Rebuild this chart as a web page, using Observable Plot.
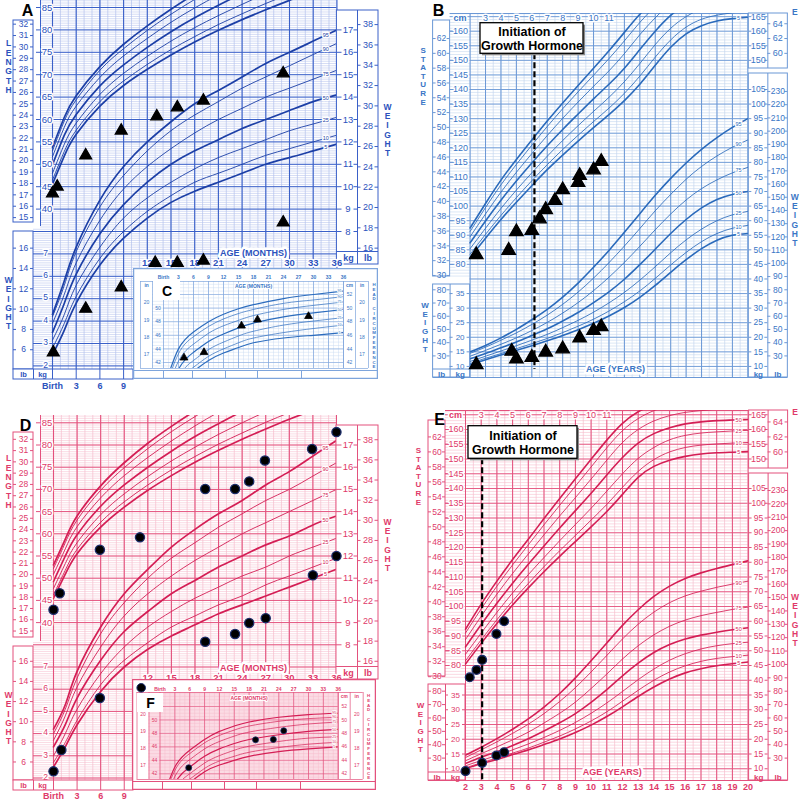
<!DOCTYPE html>
<html>
<head>
<meta charset="utf-8">
<script src="https://cdn.jsdelivr.net/npm/d3@7"></script>
<script src="https://cdn.jsdelivr.net/npm/@observablehq/plot@0.6"></script>
<style>
  html, body { margin: 0; padding: 0; background: #fff; }
  #root { position: relative; width: 800px; height: 801px; overflow: hidden; background: #fff; }
</style>
</head>
<body>
<div id="root"></div>
<script>
// ================= reference percentile curves =================
const pctNames = ["5", "10", "25", "50", "75", "90", "95"];

// Birth to 36 months (months)
const infantAges = [0, 1.5, 3, 6, 9, 12, 15, 18, 21, 24, 27, 30, 33, 36];
const boyLength = [
  [45.6, 51.9, 56.7, 63.0, 67.6, 71.2, 74.4, 77.3, 79.9, 82.3, 84.5, 86.6, 88.5, 90.4],
  [46.5, 52.9, 57.6, 64.0, 68.6, 72.3, 75.6, 78.5, 81.2, 83.6, 85.9, 88.0, 90.0, 91.8],
  [48.0, 54.5, 59.2, 65.6, 70.3, 74.1, 77.5, 80.5, 83.2, 85.7, 88.1, 90.3, 92.3, 94.2],
  [49.9, 56.5, 61.1, 67.5, 72.2, 76.1, 79.6, 82.7, 85.5, 88.1, 90.5, 92.8, 94.9, 96.9],
  [51.7, 58.3, 63.0, 69.4, 74.2, 78.1, 81.7, 84.9, 87.8, 90.5, 93.0, 95.4, 97.6, 99.7],
  [53.0, 59.7, 64.4, 71.0, 75.8, 79.9, 83.5, 86.8, 89.8, 92.6, 95.2, 97.6, 99.9, 102.0],
  [53.8, 60.5, 65.3, 71.8, 76.8, 80.9, 84.6, 88.0, 91.0, 93.8, 96.5, 99.0, 101.3, 103.5]
];
const boyWeight = [
  [2.5, 3.6, 4.8, 6.5, 7.7, 8.6, 9.3, 9.8, 10.2, 10.6, 11.0, 11.3, 11.6, 11.9],
  [2.8, 3.9, 5.1, 6.8, 8.0, 8.9, 9.6, 10.2, 10.6, 11.0, 11.4, 11.7, 12.0, 12.3],
  [3.15, 4.3, 5.6, 7.3, 8.6, 9.5, 10.2, 10.8, 11.3, 11.7, 12.1, 12.5, 12.8, 13.1],
  [3.5, 4.8, 6.1, 7.9, 9.2, 10.2, 11.0, 11.6, 12.1, 12.6, 13.0, 13.4, 13.8, 14.1],
  [3.9, 5.2, 6.6, 8.5, 9.9, 10.9, 11.7, 12.4, 13.0, 13.5, 14.0, 14.4, 14.8, 15.2],
  [4.2, 5.6, 7.1, 9.1, 10.5, 11.6, 12.5, 13.2, 13.8, 14.4, 14.9, 15.4, 15.9, 16.4],
  [4.3, 5.8, 7.3, 9.4, 10.9, 12.0, 12.9, 13.7, 14.3, 14.9, 15.5, 16.0, 16.5, 17.0]
];
const girlLength = [
  [45.5, 50.9, 55.5, 61.5, 66.0, 69.8, 73.1, 76.1, 78.8, 81.3, 83.6, 85.8, 87.8, 89.7],
  [46.3, 51.8, 56.5, 62.6, 67.2, 71.0, 74.4, 77.4, 80.2, 82.7, 85.1, 87.3, 89.4, 91.3],
  [47.7, 53.3, 58.0, 64.3, 69.0, 72.9, 76.4, 79.5, 82.4, 85.0, 87.5, 89.8, 92.0, 94.0],
  [49.3, 55.0, 59.8, 66.2, 71.0, 75.0, 78.6, 81.9, 84.8, 87.6, 90.2, 92.6, 94.9, 97.0],
  [50.9, 56.6, 61.6, 68.1, 73.1, 77.2, 80.9, 84.3, 87.4, 90.2, 92.9, 95.5, 97.9, 100.1],
  [52.2, 58.0, 63.1, 69.8, 74.9, 79.2, 83.0, 86.4, 89.6, 92.5, 95.3, 98.0, 100.5, 102.8],
  [53.0, 58.8, 64.0, 70.8, 76.0, 80.4, 84.2, 87.7, 91.0, 94.0, 96.9, 99.6, 102.1, 104.5]
];
const girlWeight = [
  [2.5, 3.4, 4.4, 5.9, 7.0, 7.8, 8.4, 8.9, 9.4, 9.8, 10.2, 10.6, 11.0, 11.4],
  [2.7, 3.6, 4.6, 6.2, 7.3, 8.1, 8.8, 9.3, 9.8, 10.2, 10.7, 11.1, 11.5, 11.9],
  [3.0, 4.0, 5.1, 6.7, 7.9, 8.8, 9.5, 10.1, 10.6, 11.1, 11.5, 12.0, 12.4, 12.8],
  [3.4, 4.4, 5.6, 7.3, 8.6, 9.5, 10.3, 10.9, 11.5, 12.0, 12.5, 12.9, 13.4, 13.8],
  [3.7, 4.8, 6.1, 7.9, 9.3, 10.3, 11.1, 11.8, 12.4, 13.0, 13.5, 14.0, 14.5, 15.0],
  [4.0, 5.1, 6.5, 8.5, 9.9, 11.0, 11.9, 12.6, 13.3, 13.9, 14.5, 15.0, 15.6, 16.2],
  [4.2, 5.3, 6.8, 8.8, 10.3, 11.4, 12.4, 13.2, 13.9, 14.5, 15.2, 15.8, 16.5, 17.2]
];

// Head circumference insets (months, cm)
const headAges = [0, 3, 6, 9, 12, 15, 18, 24, 30, 36];
const boyHead = [
  [32.2, 38.2, 40.7, 42.3, 43.4, 44.2, 44.9, 45.6, 46.0, 46.4],
  [32.8, 38.8, 41.3, 42.9, 44.0, 44.9, 45.6, 46.4, 47.0, 47.5],
  [33.8, 39.8, 42.3, 43.9, 45.0, 45.9, 46.6, 47.5, 48.1, 48.6],
  [35.0, 41.0, 43.5, 45.1, 46.2, 47.1, 47.8, 48.7, 49.3, 49.8],
  [36.2, 42.2, 44.7, 46.3, 47.4, 48.2, 48.9, 49.8, 50.4, 50.9],
  [37.3, 43.3, 45.8, 47.3, 48.4, 49.2, 49.8, 50.7, 51.2, 51.7],
  [38.0, 44.0, 46.5, 48.0, 49.1, 49.9, 50.5, 51.4, 52.0, 52.5]
];
const girlHead = [
  [32.0, 38.3, 40.7, 42.3, 43.3, 44.0, 44.6, 45.3, 45.7, 46.0],
  [32.6, 38.8, 41.2, 42.8, 43.9, 44.6, 45.2, 45.9, 46.4, 46.7],
  [33.6, 39.6, 42.0, 43.6, 44.7, 45.5, 46.1, 46.8, 47.3, 47.5],
  [34.6, 40.6, 43.0, 44.6, 45.7, 46.5, 47.1, 47.8, 48.3, 48.6],
  [35.6, 41.6, 44.1, 45.7, 46.8, 47.6, 48.2, 48.9, 49.4, 49.7],
  [36.5, 42.5, 45.0, 46.6, 47.7, 48.5, 49.1, 49.8, 50.2, 50.4],
  [37.0, 43.0, 45.5, 47.1, 48.3, 49.1, 49.7, 50.4, 50.8, 51.0]
];

// 2 to 20 years (years; stature cm, weight kg)
const childAges = [2, 3, 4, 5, 6, 7, 8, 9, 10, 11, 12, 13, 14, 15, 16, 17, 18, 19, 20];
const boyStature = [
  [82.4, 89.0, 95.4, 101.3, 107.0, 112.5, 117.5, 122.3, 126.9, 131.4, 136.2, 141.8, 148.3, 154.5, 159.1, 161.9, 163.5, 164.3, 164.8],
  [83.5, 90.3, 96.8, 102.9, 108.7, 114.2, 119.4, 124.3, 129.0, 133.6, 138.7, 144.6, 151.1, 157.0, 161.4, 164.1, 165.5, 166.3, 166.8],
  [85.4, 92.4, 99.2, 105.5, 111.4, 117.1, 122.5, 127.6, 132.5, 137.3, 142.7, 148.9, 155.4, 161.0, 165.0, 167.6, 169.0, 169.8, 170.3],
  [87.4, 94.9, 102.0, 108.6, 114.8, 120.7, 126.3, 131.6, 136.8, 141.8, 147.3, 153.7, 160.0, 165.4, 169.3, 171.8, 173.3, 174.3, 175.0],
  [89.5, 97.3, 104.8, 111.6, 118.0, 124.2, 130.1, 135.7, 141.1, 146.4, 152.3, 158.8, 164.6, 169.5, 173.1, 175.4, 176.8, 177.7, 178.3],
  [91.3, 99.5, 107.3, 114.3, 120.9, 127.3, 133.4, 139.2, 144.9, 150.6, 156.7, 163.0, 168.6, 173.4, 176.8, 178.9, 180.2, 181.0, 181.5],
  [92.5, 100.9, 108.9, 116.0, 122.7, 129.2, 135.4, 141.4, 147.3, 153.3, 159.6, 165.8, 171.1, 175.7, 178.8, 180.8, 182.0, 182.7, 183.2]
];
const boyWeightChild = [
  [10.6, 12.3, 13.9, 15.5, 17.1, 18.8, 20.6, 22.6, 24.8, 27.3, 30.2, 33.7, 37.8, 42.3, 46.6, 50.4, 53.3, 55.0, 55.6],
  [11.0, 12.8, 14.4, 16.1, 17.8, 19.6, 21.6, 23.8, 26.2, 29.0, 32.2, 35.9, 40.2, 44.8, 49.1, 52.8, 55.6, 57.4, 58.4],
  [11.7, 13.5, 15.3, 17.1, 19.0, 21.0, 23.3, 25.8, 28.6, 31.8, 35.4, 39.6, 44.2, 49.0, 53.4, 57.1, 60.0, 62.0, 63.2],
  [12.6, 14.4, 16.4, 18.4, 20.6, 22.9, 25.6, 28.5, 31.9, 35.6, 39.9, 44.9, 50.2, 55.6, 60.4, 64.4, 67.3, 69.0, 70.0],
  [13.5, 15.5, 17.6, 19.8, 22.3, 25.1, 28.3, 31.9, 36.0, 40.6, 45.7, 51.2, 56.9, 62.3, 67.1, 71.0, 74.0, 76.4, 78.3],
  [14.5, 16.6, 19.0, 21.5, 24.4, 27.6, 31.3, 35.5, 40.3, 45.6, 51.3, 57.3, 63.4, 69.0, 74.2, 78.6, 82.2, 85.2, 87.7],
  [15.0, 17.2, 19.8, 22.7, 26.0, 29.6, 33.8, 38.6, 44.0, 49.8, 56.0, 62.4, 68.7, 74.5, 79.8, 84.5, 88.5, 92.0, 95.0]
];
const girlStature = [
  [80.5, 87.5, 94.2, 100.5, 106.3, 111.8, 117.0, 122.0, 127.0, 132.2, 138.0, 143.8, 147.5, 149.6, 150.9, 151.7, 152.1, 152.3, 152.5],
  [81.6, 88.7, 95.5, 101.9, 107.8, 113.5, 118.9, 124.1, 129.3, 134.6, 140.4, 145.8, 149.8, 152.4, 153.9, 154.7, 155.1, 155.4, 155.6],
  [83.8, 91.0, 98.0, 104.6, 110.8, 116.6, 122.3, 127.8, 133.3, 139.1, 145.0, 150.2, 153.9, 156.5, 158.0, 158.8, 159.2, 159.5, 159.7],
  [86.3, 93.9, 101.1, 107.9, 114.3, 120.5, 126.6, 132.5, 138.4, 144.6, 150.5, 155.4, 158.6, 160.6, 161.9, 162.6, 163.0, 163.2, 163.4],
  [88.8, 96.7, 104.2, 111.2, 117.8, 124.3, 130.7, 136.9, 143.2, 149.6, 155.6, 160.0, 162.9, 164.7, 165.8, 166.4, 166.9, 167.2, 167.4],
  [91.0, 99.2, 106.9, 114.1, 120.9, 127.7, 134.3, 140.8, 147.3, 153.8, 159.6, 163.7, 166.4, 168.2, 169.3, 169.9, 170.3, 170.5, 170.7],
  [92.3, 100.8, 108.6, 115.9, 122.8, 129.8, 136.6, 143.3, 149.9, 156.4, 162.1, 166.0, 168.5, 170.3, 171.3, 171.9, 172.3, 172.5, 172.7]
];
const girlWeightChild = [
  [10.0, 11.7, 13.1, 14.8, 16.4, 18.2, 20.1, 22.3, 24.8, 27.7, 31.0, 34.5, 37.7, 40.4, 42.5, 43.9, 44.9, 45.6, 46.2],
  [10.3, 12.0, 13.6, 15.3, 17.0, 19.0, 21.1, 23.5, 26.2, 29.3, 32.9, 36.6, 40.0, 42.8, 44.9, 46.4, 47.4, 48.0, 48.5],
  [11.0, 12.8, 14.5, 16.4, 18.4, 20.6, 23.0, 25.7, 28.8, 32.3, 36.2, 40.2, 43.8, 46.8, 49.0, 50.6, 51.7, 52.4, 52.9],
  [11.8, 13.9, 15.8, 17.9, 20.2, 22.8, 25.6, 28.7, 32.5, 36.8, 41.5, 45.8, 49.4, 52.1, 54.0, 55.3, 56.3, 57.1, 57.8],
  [12.7, 15.1, 17.4, 19.8, 22.4, 25.5, 28.8, 32.6, 37.2, 42.1, 47.2, 51.7, 55.4, 58.3, 60.4, 61.9, 63.0, 64.0, 64.8],
  [13.8, 16.4, 19.1, 22.0, 25.1, 28.7, 32.8, 37.5, 42.8, 48.4, 54.0, 59.0, 63.1, 66.3, 68.6, 70.2, 71.5, 72.6, 73.6],
  [14.6, 17.3, 20.2, 23.4, 26.9, 30.9, 35.5, 40.8, 46.6, 52.6, 58.6, 63.9, 68.4, 71.9, 74.5, 76.4, 77.9, 79.2, 80.5]
];

// ================= patient measurements =================
// Panel A (boy, triangles)
const aLenAge = [0, 0.6, 4.2, 8.7, 13.2, 15.8, 19.1, 29.2];
const aLenCm = [43.5, 45.0, 52.0, 57.5, 60.7, 62.7, 64.2, 70.3];
const aWtAge = [0.1, 4.2, 8.7, 13.0, 15.8, 19.1, 29.2];
const aWtKg = [2.6, 4.55, 5.5, 6.6, 6.6, 6.7, 8.4];
// Panel C (head circumference)
const cHeadAge = [4.1, 8.1, 15.6, 18.8, 29.0];
const cHeadCm = [42.7, 43.5, 47.4, 48.3, 48.8];
// Panel B (boy 2-20 y, triangles)
const bStatAge = [2.4, 4.5, 5.0, 6.0, 6.5, 6.9, 7.5, 8.0, 9.0, 9.1, 10.0, 10.5];
const bStatCm = [83.3, 84.8, 91.2, 91.6, 95.6, 98.8, 101.9, 105.6, 108.1, 110.5, 112.4, 115.3];
const bWtAge = [2.4, 4.7, 5.0, 6.0, 6.9, 8.0, 9.1, 10.0, 10.5];
const bWtKg = [10.6, 15.2, 12.6, 13.1, 14.9, 16.0, 19.8, 22.3, 23.6];
const bGhAge = 6.17;
// Panel D (girl, circles)
const dLenAge = [0, 0.8, 5.9, 11.0, 19.3, 23.1, 24.9, 26.9, 32.9, 36];
const dLenCm = [42.9, 46.6, 56.4, 59.2, 70.1, 70.1, 71.8, 76.5, 79.1, 82.9];
const dWtAge = [0, 1.0, 5.9, 19.3, 23.1, 24.9, 27.0, 33.0, 36];
const dWtKg = [2.3, 3.26, 5.6, 8.14, 8.49, 8.98, 9.2, 11.13, 12.0];
// Panel F (head circumference)
const fHeadAge = [5.8, 19.3, 22.9, 25.0];
const fHeadCm = [42.9, 47.05, 47.1, 48.4];
// Panel E (girl 2-20 y, circles)
const eStatAge = [2.27, 2.7, 3.06, 3.97, 4.46];
const eStatCm = [76.0, 78.5, 81.9, 90.7, 95.0];
const eWtAge = [2.0, 3.06, 3.97, 4.46];
const eWtKg = [9.2, 12.0, 14.5, 15.6];
const eGhAge = 3.06;

// ================= tick labels =================
const monthLowTicks = [0, 3, 6, 9];
const monthMidTicks = [12, 15, 18, 21, 24, 27, 30, 33, 36];
const lengthCmTicks = [40, 45, 50, 55, 60, 65, 70, 75, 80, 85];
const lengthInTicks = [15, 16, 17, 18, 19, 20, 21, 22, 23, 24, 25, 26, 27, 28, 29, 30, 31, 32];
const infantKgLeft = [2, 3, 4, 5, 6, 7];
const infantLbLeft = [6, 8, 10, 12, 14, 16];
const infantKgRight = [8, 9, 10, 11, 12, 13, 14, 15, 16, 17];
const infantLbRight = [16, 18, 20, 22, 24, 26, 28, 30, 32, 34, 36, 38];
const headMonthTicks = [0, 3, 6, 9, 12, 15, 18, 21, 24, 27, 30, 33, 36];
const headCmTicks = [42, 44, 46, 48, 50, 52];
const headInTicks = [17, 18, 19, 20];
const yearTopTicks = [3, 4, 5, 6, 7, 8, 9, 10, 11];
const yearBottomTicks = [2, 3, 4, 5, 6, 7, 8, 9, 10, 11, 12, 13, 14, 15, 16, 17, 18, 19, 20];
const statureCmTicks = [80, 85, 90, 95, 100, 105, 110, 115, 120, 125, 130, 135, 140, 145, 150, 155, 160];
const statureInTicks = [30, 32, 34, 36, 38, 40, 42, 44, 46, 48, 50, 52, 54, 56, 58, 60, 62];
const statureCmRight = [150, 155, 160, 165];
const statureInRight = [60, 62, 64];
const childKgLeft = [10, 15, 20, 25, 30, 35];
const childLbLeft = [30, 40, 50, 60, 70, 80];
const childKgRight = [10, 15, 20, 25, 30, 35, 40, 45, 50, 55, 60, 65, 70, 75, 80, 85, 90, 95, 100, 105];
const childLbRight = [30, 40, 50, 60, 70, 80, 90, 100, 110, 120, 130, 140, 150, 160, 170, 180, 190, 200, 210, 220, 230];

// ================= drawing helpers =================
const FONT = '"Liberation Sans", Arial, Helvetica, sans-serif';
const root = document.getElementById("root");
const str = d => String(d);
const pairs = (xs, ys) => xs.map((a, i) => ({a, v: ys[i]}));

function label(data, o) {
  const {halo, ...rest} = o;
  const base = {fontFamily: FONT, ...rest};
  const out = [];
  if (halo) out.push(Plot.text(data, {...base, fill: "white", stroke: "white", strokeWidth: halo, strokeLinejoin: "round"}));
  out.push(Plot.text(data, base));
  return out;
}
function place(el, left, top) {
  el.style.position = "absolute";
  el.style.left = left + "px";
  el.style.top = top + "px";
  el.style.maxWidth = "none";
  root.appendChild(el);
}

const blueA = {thin: "#b3c1ec", mid: "#3a60c8", curve: "#1c3fa6", text: "#2c52bd"};
const blueB = {thin: "#c4d6ef", mid: "#6b98d6", curve: "#2a6abb", text: "#3a76c6"};
const blueC = {thin: "#cddcf2", mid: "#7ea5dc", curve: "#2c6cbd", text: "#3a76c6"};
const pink = {thin: "#f6bdcd", mid: "#e3517d", curve: "#d41e55", text: "#e03a6a"};

// ---------- birth to 36 months panel (A, D) ----------
function infantPanel(c) {
  const th = c.th, W = 400, H = c.H;
  const X = px => (px - c.x0) / c.kx;
  const Y = py => 85 - (py - c.y0) / c.ky;
  const K = kg => 5 * kg - 5;                 // weight placed on the shared length axis
  const LB = lb => K(lb * 0.453592);
  const IN = v => v * 2.54;
  const topV = Y(0);
  const gx1 = v => (v >= 36 ? X(40) : X(33));
  const rowY = c.rowY;
  const m = [];
  // grid
  m.push(Plot.ruleY(d3.range(K(2), topV, 0.5), {y: d => d, x1: gx1, x2: 36, stroke: th.thin, strokeWidth: 0.55}));
  m.push(Plot.ruleX(d3.range(0, 37), {x: d => d, y1: topV, y2: Y(rowY + 10), stroke: th.thin, strokeWidth: 0.7}));
  m.push(Plot.ruleY(d3.range(5, topV, 5), {y: d => d, x1: gx1, x2: 36, stroke: th.mid, strokeWidth: 1}));
  m.push(Plot.ruleX(d3.range(0, 37, 3), {x: d => d, y1: topV, y2: Y(rowY + 10), stroke: th.mid, strokeWidth: 1.1}));
  m.push(Plot.ruleX([X(40)], {x: d => d, y1: topV, y2: Y(226), stroke: th.mid, strokeWidth: 1}));
  // percentile curves
  c.len.forEach((row, i) => m.push(Plot.line(pairs(infantAges, row), {x: "a", y: "v", curve: "natural", stroke: th.curve, strokeWidth: i % 3 === 0 ? 1.7 : 0.9})));
  c.wt.forEach((row, i) => m.push(Plot.line(pairs(infantAges, row.map(v => K(v))), {x: "a", y: "v", curve: "natural", stroke: th.curve, strokeWidth: i % 3 === 0 ? 1.7 : 0.9})));
  const wl = c.wt.map((row, i) => ({p: pctNames[i], v: K((row[12] + row[13]) / 2)}));
  m.push(...label(wl, {x: 34.6, y: "v", text: "p", fontSize: 5.5, fill: th.curve, halo: 2.5}));
  // left length column
  m.push(Plot.rect([0], {x1: X(13), x2: X(33), y1: Y(c.boxTop), y2: Y(222), fill: "white", stroke: th.mid, strokeWidth: 1}));
  m.push(Plot.ruleY(lengthInTicks, {y: IN, x1: X(13), x2: X(16), stroke: th.mid}));
  m.push(Plot.ruleY(lengthInTicks, {y: IN, x1: X(30), x2: X(33), stroke: th.mid}));
  m.push(...label(lengthInTicks, {x: X(23), y: IN, text: str, fontSize: 8.5, fill: th.text}));
  m.push(Plot.ruleY(lengthCmTicks, {y: d => d, x1: X(36), x2: X(41), stroke: th.mid}));
  m.push(...label(lengthCmTicks, {x: X(46.5), y: d => d, text: str, fontSize: 9.5, fill: th.text, halo: 3}));
  m.push(...label([..."LENGTH"], {x: X(8), y: (d, i) => Y(43 + i * 9.4), text: d => d, fontSize: 8.5, fontWeight: "bold", fill: th.text}));
  // left weight column
  m.push(Plot.rect([0], {x1: X(13), x2: X(33), y1: Y(231), y2: Y(rowY), fill: "white", stroke: th.mid, strokeWidth: 1}));
  m.push(Plot.ruleY(infantLbLeft, {y: LB, x1: X(13), x2: X(16), stroke: th.mid}));
  m.push(Plot.ruleY(infantLbLeft, {y: LB, x1: X(30), x2: X(33), stroke: th.mid}));
  m.push(...label(infantLbLeft, {x: X(23), y: LB, text: str, fontSize: 8.5, fill: th.text}));
  m.push(...label(infantKgLeft, {x: X(45), y: d => K(d), dy: -1, text: str, fontSize: 8.5, fill: th.text, halo: 3}));
  m.push(...label([..."WEIGHT"], {x: X(8), y: (d, i) => Y(280 + i * 9.2), text: d => d, fontSize: 8.5, fontWeight: "bold", fill: th.text}));
  // bottom-left unit row
  m.push(Plot.rect([0], {x1: X(13), x2: X(133), y1: Y(rowY), y2: Y(rowY + 10), fill: "white", stroke: th.mid, strokeWidth: 1}));
  m.push(Plot.ruleX([X(33), ...monthLowTicks], {x: d => d, y1: Y(rowY), y2: Y(rowY + 10), stroke: th.mid, strokeWidth: 1}));
  m.push(...label(["lb", "kg"], {x: (d, i) => X(i ? 42 : 23), y: Y(rowY + 5.3), text: d => d, fontSize: 7.5, fontWeight: "bold", fill: th.text}));
  m.push(...label(monthLowTicks, {x: d => d, y: Y(c.bottomY), text: d => (d === 0 ? "Birth" : String(d)), fontSize: 9, fontWeight: "bold", fill: th.text}));
  // right weight columns
  m.push(Plot.rect([0], {x1: 36, x2: X(378), y1: Y(10), y2: Y(264), fill: "white", stroke: th.mid, strokeWidth: 1}));
  m.push(Plot.ruleX([X(357)], {x: d => d, y1: Y(10), y2: Y(264), stroke: th.mid, strokeWidth: 1}));
  m.push(Plot.ruleY([Y(251)], {y: d => d, x1: 36, x2: X(378), stroke: th.mid, strokeWidth: 1}));
  m.push(Plot.ruleY(infantKgRight, {y: d => K(d), x1: 36, x2: X(341.5), stroke: th.mid}));
  m.push(Plot.ruleY(infantKgRight, {y: d => K(d), x1: X(353.5), x2: X(357), stroke: th.mid}));
  m.push(...label(infantKgRight, {x: X(347.5), y: d => K(d), text: str, fontSize: 9.5, fill: th.text}));
  m.push(Plot.ruleY(infantLbRight, {y: LB, x1: X(357), x2: X(360.5), stroke: th.mid}));
  m.push(Plot.ruleY(infantLbRight, {y: LB, x1: X(374.5), x2: X(378), stroke: th.mid}));
  m.push(...label(infantLbRight, {x: X(367.5), y: LB, text: str, fontSize: 9, fill: th.text}));
  m.push(...label(["kg", "lb"], {x: (d, i) => X(i ? 367.5 : 348), y: Y(257.5), text: d => d, fontSize: 9, fontWeight: "bold", fill: th.text}));
  m.push(...label([..."WEIGHT"], {x: X(387), y: (d, i) => Y(107 + i * 9.1), text: d => d, fontSize: 8.5, fontWeight: "bold", fill: th.text}));
  // age axis labels
  m.push(...label(["AGE (MONTHS)"], {x: X(253), y: Y(253), text: d => d, fontSize: 9, fontWeight: "bold", fill: th.text, halo: 5}));
  m.push(...label(monthMidTicks, {x: d => d, y: Y(262.5), text: str, fontSize: 9.5, fontWeight: "bold", fill: th.text, halo: 3}));
  // panel letter
  m.push(...label([c.letter], {x: X(c.letterX), y: Y(c.letterY), text: d => d, fontSize: 16, fontWeight: "bold", fill: "black"}));
  // patient
  const ptOpts = {x: "a", y: "v", symbol: c.symbol, r: c.r, fill: "black", stroke: c.ptStroke, strokeWidth: 1.3};
  m.push(Plot.dot(pairs(c.lenAge, c.lenVal), ptOpts));
  m.push(Plot.dot(pairs(c.wtAge, c.wtVal.map(v => K(v))), ptOpts));
  return Plot.plot({
    width: W, height: H, marginTop: 0, marginRight: 0, marginBottom: 0, marginLeft: 0,
    x: {domain: [X(0), X(W)], range: [0, W], axis: null},
    y: {domain: [Y(0), Y(H)], range: [0, H], axis: null},
    style: {background: "transparent", fontFamily: FONT},
    marks: m
  });
}

// ---------- head circumference inset (C, F) ----------
function insetPanel(c) {
  const th = c.th, W = c.W, H = c.H;
  const X = px => (px - c.x0) / c.kx;
  const Y = py => 52 - (py - c.y0) / c.ky;
  const IN = v => v * 2.54;
  const gr = c.x0 + 36 * c.kx;
  const topV = Y(13), botV = Y(100);
  const m = [];
  m.push(Plot.rect([0], {x1: X(0.6), x2: X(W - 0.6), y1: Y(0.6), y2: Y(H - 0.6), fill: "white", stroke: th.mid, strokeWidth: 1.3}));
  if (c.gridFill) m.push(Plot.rect([0], {x1: X(c.x0 - 11), x2: 36, y1: topV, y2: botV, fill: c.gridFill}));
  m.push(Plot.ruleY(d3.range(41.5, topV, 0.5), {y: d => d, x1: X(c.x0 - 11), x2: 36, stroke: th.thin, strokeWidth: 0.5}));
  m.push(Plot.ruleX(d3.range(0, 37), {x: d => d, y1: topV, y2: botV, stroke: th.thin, strokeWidth: 0.5}));
  m.push(Plot.ruleY(headCmTicks, {y: d => d, x1: 0, x2: 36, stroke: th.mid, strokeWidth: 0.6}));
  m.push(Plot.ruleX(d3.range(0, 37, 3), {x: d => d, y1: topV, y2: botV, stroke: th.mid, strokeWidth: 0.7}));
  m.push(Plot.ruleX([X(c.x0 - 23), X(c.x0 - 11), 36, X(gr + 12), X(gr + 25)], {x: d => d, y1: topV, y2: botV, stroke: th.mid, strokeWidth: 0.7}));
  m.push(Plot.ruleY([topV, botV], {y: d => d, x1: X(c.x0 - 23), x2: X(gr + 25), stroke: th.mid, strokeWidth: 0.7}));
  // axis labels
  m.push(...label(headInTicks, {x: X(c.x0 - 17), y: IN, text: str, fontSize: 5, fill: th.text}));
  m.push(...label(headCmTicks.slice(0, 5), {x: X(c.x0 - 5.5), y: d => d, text: str, fontSize: 5, fill: th.text}));
  m.push(...label(headCmTicks, {x: X(gr + 6), y: d => d, text: str, fontSize: 5, fill: th.text, halo: 2}));
  m.push(...label(headInTicks, {x: X(gr + 18.5), y: IN, text: str, fontSize: 5, fill: th.text}));
  m.push(...label(["in", "cm", "in"], {x: (d, i) => X([c.x0 - 17, gr + 6, gr + 18.5][i]), y: Y(16.5), text: d => d, fontSize: 4.8, fontWeight: "bold", fill: th.text}));
  m.push(...label([..."HEAD CIRCUMFERENCE"], {x: X(gr + 30.5), y: (d, i) => Y(16 + i * 4.85), text: d => d, fontSize: 4.4, fontWeight: "bold", fill: th.text}));
  m.push(...label(headMonthTicks, {x: d => d, y: Y(c.topLabelY), text: d => (d === 0 ? "Birth" : String(d)), fontSize: 5, fontWeight: "bold", fill: th.text}));
  m.push(...label(["AGE (MONTHS)"], {x: 18, y: Y(c.topLabelY + 9), text: d => d, fontSize: 5, fontWeight: "bold", fill: th.text, halo: 2}));
  // bottom strip
  m.push(Plot.ruleY([Y(102)], {y: d => d, x1: X(0), x2: X(W), stroke: th.mid, strokeWidth: 1}));
  m.push(Plot.ruleX([30, 59, 92, 124, 168].map(X), {x: d => d, y1: Y(102), y2: Y(H), stroke: th.mid, strokeWidth: 1}));
  // curves
  c.rows.forEach((row, i) => m.push(Plot.line(pairs(headAges, row), {x: "a", y: "v", curve: "natural", stroke: th.curve, strokeWidth: i % 3 === 0 ? 1.2 : 0.7, clip: true})));
  const hl = c.rows.map((row, i) => ({p: pctNames[i], v: row[9] - 0.05 * (row[9] - row[8])}));
  m.push(...label(hl, {x: 35.2, y: "v", text: "p", fontSize: 3.6, fill: th.curve, halo: 1.5}));
  // letter box
  const b = c.box;
  m.push(Plot.rect([0], {x1: X(b[0]), x2: X(b[1]), y1: Y(b[2]), y2: Y(b[3]), fill: "white"}));
  m.push(...label([c.letter], {x: X((b[0] + b[1]) / 2), y: Y((b[2] + b[3]) / 2 + 1), text: d => d, fontSize: 14, fontWeight: "bold", fill: "black"}));
  if (c.legendDot) m.push(Plot.dot([0], {x: X(c.legendDot[0]), y: Y(c.legendDot[1]), r: 4.3, fill: "black", stroke: "#1b2d6b", strokeWidth: 1}));
  // patient
  m.push(Plot.dot(pairs(c.ptAge, c.ptVal), {x: "a", y: "v", symbol: c.symbol, r: c.r, fill: "black", stroke: c.ptStroke, strokeWidth: 0.8}));
  return Plot.plot({
    width: W, height: H, marginLeft: c.x0, marginRight: W - gr, marginTop: 13, marginBottom: H - 100,
    x: {domain: [X(0), X(W)], range: [0, W], axis: null},
    y: {domain: [Y(0), Y(H)], range: [0, H], axis: null},
    style: {background: "transparent", fontFamily: FONT},
    marks: m
  });
}

// ---------- 2 to 20 years panel (B, E) ----------
function childPanel(c) {
  const th = c.th, W = 400, H = c.H;
  const X = px => 2 + (px - c.x0) / c.kx;
  const Y = py => 160 - (py - c.y0) / c.ky;
  const K = kg => kg + 35;                  // weight placed on the shared stature axis
  const LB = lb => K(lb * 0.453592);
  const IN = v => v * 2.54;
  const x20 = c.x0 + 18 * c.kx;
  const P = d => X(c.x0 + d), Q = d => X(x20 + d);
  const gt = c.gridTop, gb = c.gridBot;
  const topV = Y(gt), botV = Y(gb);
  const hx1 = v => (v >= 76 ? P(-20) : 2);
  const m = [];
  // grid
  m.push(Plot.ruleY(d3.range(Math.ceil(botV), topV, 1), {y: d => d, x1: hx1, x2: 20, stroke: th.thin, strokeWidth: 0.6}));
  m.push(Plot.ruleX(d3.range(2, 20.01, 0.5), {x: d => d, y1: topV, y2: botV, stroke: th.thin, strokeWidth: 0.7}));
  m.push(Plot.ruleY(d3.range(Math.ceil(botV / 5) * 5, topV, 5), {y: d => d, x1: hx1, x2: 20, stroke: th.mid, strokeWidth: 0.9}));
  m.push(Plot.ruleX(d3.range(2, 21), {x: d => d, y1: topV, y2: botV, stroke: th.mid, strokeWidth: 1}));
  m.push(Plot.ruleY([topV], {y: d => d, x1: P(-20), x2: Q(40), stroke: th.mid, strokeWidth: 1.2}));
  m.push(Plot.ruleY([botV], {y: d => d, x1: P(-37), x2: Q(40), stroke: th.mid, strokeWidth: 1.2}));
  // curves
  c.stat.forEach((row, i) => m.push(Plot.line(pairs(childAges, row), {x: "a", y: "v", curve: "natural", stroke: th.curve, strokeWidth: i % 3 === 0 ? 1.6 : 0.85, clip: true})));
  c.wt.forEach((row, i) => m.push(Plot.line(pairs(childAges, row.map(v => K(v))), {x: "a", y: "v", curve: "natural", stroke: th.curve, strokeWidth: i % 3 === 0 ? 1.6 : 0.85, clip: true})));
  const wl = c.wt.map((row, i) => ({p: pctNames[i], v: K(row[17] + 0.4 * (row[18] - row[17]))}));
  const sl = c.stat.map((row, i) => ({p: pctNames[i], v: row[17] + 0.4 * (row[18] - row[17])})).filter(d => d.v < topV - 1);
  m.push(...label(wl.concat(sl), {x: 19.4, y: "v", text: "p", fontSize: 5.5, fill: th.curve, halo: 2.5}));
  // left stature column
  m.push(Plot.rect([0], {x1: P(-37), x2: P(-20), y1: Y(20), y2: Y(276), fill: "white", stroke: th.mid, strokeWidth: 1}));
  m.push(Plot.ruleY(statureInTicks, {y: IN, x1: P(-37), x2: P(-34), stroke: th.mid}));
  m.push(Plot.ruleY(statureInTicks, {y: IN, x1: P(-23), x2: P(-20), stroke: th.mid}));
  m.push(...label(statureInTicks, {x: P(-28.5), y: IN, text: str, fontSize: 8.5, fill: th.text}));
  m.push(Plot.ruleY(statureCmTicks, {y: d => d, x1: P(-20), x2: P(-16), stroke: th.mid}));
  m.push(...label(statureCmTicks, {x: P(-9.5), y: d => d, text: str, fontSize: 9, fill: th.text, halo: 3}));
  m.push(...label(["cm"], {x: P(-10), y: Y(gt + 4.5), text: d => d, fontSize: 9, fontWeight: "bold", fill: th.text, halo: 3}));
  m.push(...label([..."STATURE"], {x: P(-47), y: (d, i) => Y(50 + i * 8.6), text: d => d, fontSize: 8, fontWeight: "bold", fill: th.text}));
  // left weight column
  m.push(Plot.rect([0], {x1: P(-37), x2: P(0), y1: Y(284), y2: botV, fill: "white", stroke: th.mid, strokeWidth: 1}));
  m.push(Plot.ruleX([P(-20)], {x: d => d, y1: Y(284), y2: botV, stroke: th.mid, strokeWidth: 1}));
  m.push(Plot.ruleY(childLbLeft, {y: LB, x1: P(-37), x2: P(-34), stroke: th.mid}));
  m.push(Plot.ruleY(childLbLeft, {y: LB, x1: P(-23), x2: P(-20), stroke: th.mid}));
  m.push(...label(childLbLeft, {x: P(-28.5), y: LB, text: str, fontSize: 8.5, fill: th.text}));
  m.push(Plot.ruleY(childKgLeft, {y: d => K(d), x1: P(-20), x2: P(-17), stroke: th.mid}));
  m.push(Plot.ruleY(childKgLeft, {y: d => K(d), x1: P(-3), x2: P(0), stroke: th.mid}));
  m.push(...label(childKgLeft, {x: P(-10), y: d => K(d), text: str, fontSize: 8, fill: th.text}));
  m.push(Plot.ruleY([Y(gb - 8.5)], {y: d => d, x1: P(-37), x2: P(0), stroke: th.mid, strokeWidth: 1}));
  m.push(...label(["lb", "kg"], {x: (d, i) => P(i ? -10 : -28.5), y: Y(gb - 3.5), text: d => d, fontSize: 8, fontWeight: "bold", fill: th.text}));
  m.push(...label([..."WEIGHT"], {x: P(-45), y: (d, i) => Y(305 + i * 8.7), text: d => d, fontSize: 8, fontWeight: "bold", fill: th.text}));
  // right stature box
  m.push(Plot.rect([0], {x1: Q(1), x2: Q(40), y1: topV, y2: Y(68), fill: "white", stroke: th.mid, strokeWidth: 1}));
  m.push(Plot.ruleX([Q(20)], {x: d => d, y1: topV, y2: Y(68), stroke: th.mid, strokeWidth: 1}));
  m.push(Plot.ruleY(statureCmRight, {y: d => d, x1: Q(1), x2: Q(4), stroke: th.mid}));
  m.push(Plot.ruleY(statureCmRight, {y: d => d, x1: Q(17), x2: Q(20), stroke: th.mid}));
  m.push(...label(statureCmRight, {x: Q(10.5), y: d => d, text: str, fontSize: 9, fill: th.text}));
  m.push(Plot.ruleY(statureInRight, {y: IN, x1: Q(20), x2: Q(23), stroke: th.mid}));
  m.push(Plot.ruleY(statureInRight, {y: IN, x1: Q(37), x2: Q(40), stroke: th.mid}));
  m.push(...label(statureInRight, {x: Q(30), y: IN, text: str, fontSize: 9, fill: th.text}));
  // right weight box
  m.push(Plot.rect([0], {x1: Q(1), x2: Q(40), y1: Y(73), y2: botV, fill: "white", stroke: th.mid, strokeWidth: 1}));
  m.push(Plot.ruleX([Q(20)], {x: d => d, y1: Y(73), y2: botV, stroke: th.mid, strokeWidth: 1}));
  m.push(Plot.ruleY(childKgRight, {y: d => K(d), x1: Q(1), x2: Q(4), stroke: th.mid}));
  m.push(Plot.ruleY(childKgRight, {y: d => K(d), x1: Q(17), x2: Q(20), stroke: th.mid}));
  m.push(...label(childKgRight, {x: Q(10.5), y: d => K(d), text: str, fontSize: 8.5, fill: th.text}));
  m.push(Plot.ruleY(childLbRight, {y: LB, x1: Q(20), x2: Q(23), stroke: th.mid}));
  m.push(Plot.ruleY(childLbRight, {y: LB, x1: Q(37), x2: Q(40), stroke: th.mid}));
  m.push(...label(childLbRight, {x: Q(30), y: LB, text: str, fontSize: 8.5, fill: th.text}));
  m.push(...label(["kg", "lb"], {x: (d, i) => Q(i ? 30 : 10.5), y: Y(gb - 3), text: d => d, fontSize: 8, fontWeight: "bold", fill: th.text}));
  m.push(...label([..."WEIGHT"], {x: Q(47), y: (d, i) => Y(197 + i * 9.1), text: d => d, fontSize: 8.5, fontWeight: "bold", fill: th.text}));
  m.push(...label(["E"], {x: Q(47), y: Y(c.eY), text: d => d, fontSize: 8.5, fontWeight: "bold", fill: th.text}));
  // age labels
  m.push(...label(yearTopTicks, {x: d => d, y: Y(gt + 4.5), text: str, fontSize: 9, fill: th.text, halo: 3}));
  if (c.bottomTicks) m.push(...label(yearBottomTicks, {x: d => d, y: Y(c.bottomY), text: str, fontSize: 9, fontWeight: "bold", fill: th.text}));
  m.push(...label(["AGE (YEARS)"], {x: X(c.ageLabel[0]), y: Y(c.ageLabel[1]), text: d => d, fontSize: 9, fontWeight: "bold", fill: th.text, halo: 5}));
  // growth hormone start
  const b = c.box;
  m.push(Plot.ruleX([c.gh], {x: d => d, y1: Y(b[3]), y2: Y(c.dashEnd), stroke: "black", strokeWidth: 2.2, strokeDasharray: "6,3"}));
  m.push(Plot.rect([0], {x1: X(b[0] + 2), x2: X(b[1] + 2), y1: Y(b[2] + 2), y2: Y(b[3] + 2), fill: "#8a8a8a"}));
  m.push(Plot.rect([0], {x1: X(b[0]), x2: X(b[1]), y1: Y(b[2]), y2: Y(b[3]), fill: "white", stroke: "black", strokeWidth: 1.3}));
  m.push(...label(["Initiation of", "Growth Hormone"], {x: X((b[0] + b[1]) / 2), y: (d, i) => Y(i ? c.line2 : c.line1), text: d => d, fontSize: 12.5, fontWeight: "bold", fill: "black"}));
  // panel letter
  m.push(...label([c.letter], {x: X(c.letterX), y: Y(c.letterY), text: d => d, fontSize: 16, fontWeight: "bold", fill: "black"}));
  // patient
  const ptOpts = {x: "a", y: "v", symbol: c.symbol, r: c.r, fill: "black", stroke: c.ptStroke, strokeWidth: 1.3};
  m.push(Plot.dot(pairs(c.statAge, c.statVal), ptOpts));
  m.push(Plot.dot(pairs(c.wtAge, c.wtVal.map(v => K(v))), ptOpts));
  return Plot.plot({
    width: W, height: H, marginTop: gt, marginRight: 0, marginBottom: 0, marginLeft: 0,
    x: {domain: [X(0), X(W)], range: [0, W], axis: null},
    y: {domain: [Y(0), Y(H)], range: [0, H], axis: null},
    style: {background: "transparent", fontFamily: FONT},
    marks: m
  });
}

// ================= assemble =================
place(infantPanel({
  th: blueA, H: 392, x0: 52, kx: 7.9, y0: 7, ky: 4.48, rowY: 369, bottomY: 385.5, boxTop: 20,
  letter: "A", letterX: 27, letterY: 10,
  len: boyLength, wt: boyWeight,
  lenAge: aLenAge, lenVal: aLenCm, wtAge: aWtAge, wtVal: aWtKg,
  symbol: "triangle", r: 4.4, ptStroke: "black"
}), 0, 0);

place(insetPanel({
  th: blueC, W: 245, H: 111, x0: 30, kx: 5, y0: 26, ky: 6.8, topLabelY: 9,
  rows: boyHead, ptAge: cHeadAge, ptVal: cHeadCm, symbol: "triangle", r: 2.9, ptStroke: "black",
  letter: "C", box: [20, 47, 12, 32]
}), 133, 268);

place(childPanel({
  th: blueB, H: 385, x0: 69.6, kx: 15.43, y0: 30.7, ky: 2.915, gridTop: 13, gridBot: 377,
  stat: boyStature, wt: boyWeightChild,
  statAge: bStatAge, statVal: bStatCm, wtAge: bWtAge, wtVal: bWtKg,
  gh: bGhAge, box: [80, 183, 22.7, 53.3], line1: 31.5, line2: 45.5, dashEnd: 369,
  ageLabel: [215, 369], letter: "B", letterX: 38, letterY: 10, eY: 12,
  bottomTicks: false, symbol: "triangle", r: 5, ptStroke: "black"
}), 400, 0);

place(infantPanel({
  th: pink, H: 386, x0: 53, kx: 7.86, y0: 7.3, ky: 4.44, rowY: 365, bottomY: 381, boxTop: 17,
  letter: "D", letterX: 25, letterY: 10,
  len: girlLength, wt: girlWeight,
  lenAge: dLenAge, lenVal: dLenCm, wtAge: dWtAge, wtVal: dWtKg,
  symbol: "circle", r: 4.6, ptStroke: "#1b2d6b"
}), 0, 415);

place(insetPanel({
  th: pink, W: 244, H: 111, x0: 27.5, kx: 4.95, y0: 27, ky: 6.73, topLabelY: 10,
  gridFill: "#fbdbe4",
  rows: girlHead, ptAge: fHeadAge, ptVal: fHeadCm, symbol: "circle", r: 3, ptStroke: "#1b2d6b",
  letter: "F", box: [5, 31, 14, 33], legendDot: [8.7, 8.3]
}), 132, 679);

place(childPanel({
  th: pink, H: 401, x0: 65, kx: 15.7, y0: 29, ky: 2.95, gridTop: 10, gridBot: 380,
  stat: girlStature, wt: girlWeightChild,
  statAge: eStatAge, statVal: eStatCm, wtAge: eWtAge, wtVal: eWtKg,
  gh: eGhAge, box: [68, 177, 25.7, 58.3], line1: 35, line2: 49.5, dashEnd: 381,
  ageLabel: [211.7, 371.7], letter: "E", letterX: 39, letterY: 19, eY: 11.7,
  bottomTicks: true, bottomY: 387, symbol: "circle", r: 4.4, ptStroke: "#1b2d6b"
}), 400, 400);
</script>
</body>
</html>
